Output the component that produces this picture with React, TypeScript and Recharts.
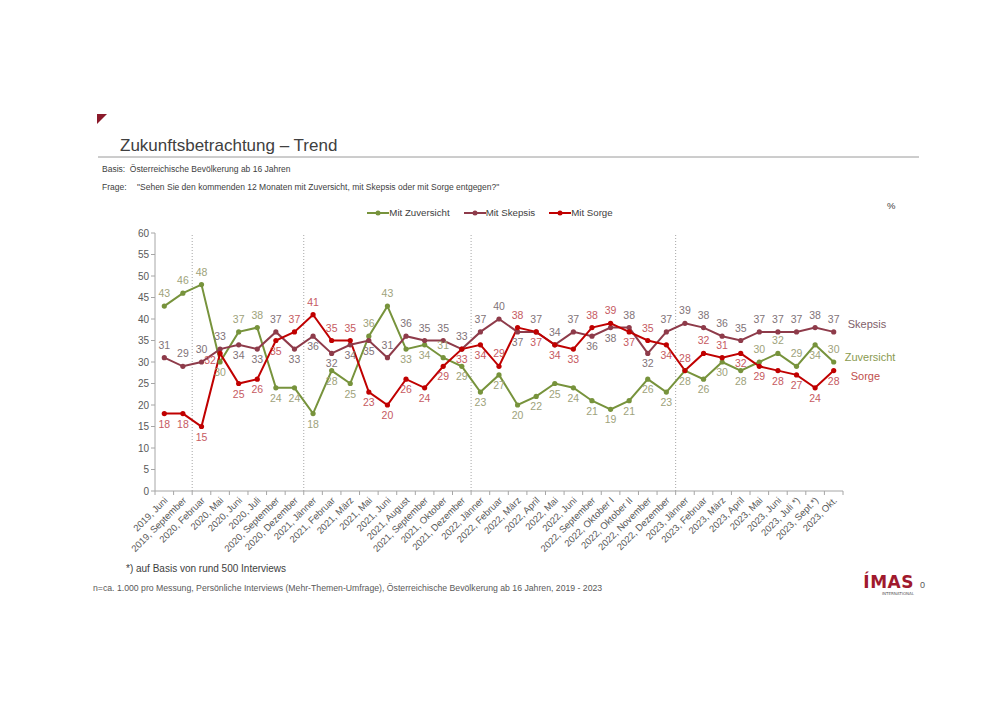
import React from 'react';
import { LineChart, Line, XAxis, YAxis, ReferenceLine, LabelList } from 'recharts';

const categories = [
  '2019, Juni', '2019, September', '2020, Februar', '2020, Mai', '2020, Juni', '2020, Juli',
  '2020, September', '2020, Dezember', '2021, Jänner', '2021, Februar', '2021, März', '2021, Mai',
  '2021, Juni', '2021, August', '2021, September', '2021, Oktober', '2021, Dezember', '2022, Jänner',
  '2022, Februar', '2022, März', '2022, April', '2022, Mai', '2022, Juni', '2022, September',
  '2022, Oktober I', '2022, Oktober II', '2022, November', '2022, Dezember', '2023, Jänner',
  '2023, Februar', '2023, März', '2023, April', '2023, Mai', '2023, Juni', '2023, Juli *)',
  '2023, Sept.*)', '2023, Okt.',
];

const zuversicht = [43, 46, 48, 30, 37, 38, 24, 24, 18, 28, 25, 36, 43, 33, 34, 31, 29, 23, 27, 20, 22, 25, 24, 21, 19, 21, 26, 23, 28, 26, 30, 28, 30, 32, 29, 34, 30];
const skepsis = [31, 29, 30, 33, 34, 33, 37, 33, 36, 32, 34, 35, 31, 36, 35, 35, 33, 37, 40, 37, 37, 34, 37, 36, 38, 38, 32, 37, 39, 38, 36, 35, 37, 37, 37, 38, 37];
const sorge = [18, 18, 15, 32, 25, 26, 35, 37, 41, 35, 35, 23, 20, 26, 24, 29, 33, 34, 29, 38, 37, 34, 33, 38, 39, 37, 35, 34, 28, 32, 31, 32, 29, 28, 27, 24, 28];

const yTicks = [0, 5, 10, 15, 20, 25, 30, 35, 40, 45, 50, 55, 60];

const FONT = '"Liberation Sans", Arial, sans-serif';

const data = categories.map((c, i) => ({ i, cat: c, z: zuversicht[i], sk: skepsis[i], so: sorge[i] }));

const series = [
  { key: 'z', name: 'Mit Zuversicht', short: 'Zuversicht', color: '#77933C', labelColor: '#9EA27A', nameColor: '#8A9A50', ndx: 11, ndy: -4 },
  { key: 'sk', name: 'Mit Skepsis', short: 'Skepsis', color: '#8E3B4A', labelColor: '#7F7378', nameColor: '#7F6069', ndx: 14, ndy: -7 },
  { key: 'so', name: 'Mit Sorge', short: 'Sorge', color: '#C00000', labelColor: '#C65A5F', nameColor: '#C0504D', ndx: 17, ndy: 6 },
];
const order = series.map((s) => s.key);

const W = 1000;
const H = 707;
const M = { top: 233, right: 157, bottom: 136, left: 115 };
const YW = 40;
const plotLeft = M.left + YW;
const plotW = W - M.right - plotLeft;
const bw = plotW / categories.length;

const yearOf = (c: string) => c.slice(0, 4);
const separators = categories
  .map((c, i) => (i > 0 && yearOf(c) !== yearOf(categories[i - 1]) ? i - 0.5 : null))
  .filter((v) => v !== null) as number[];

const labelSide = (key: string, idx: number) => {
  const vals: Record<string, number> = { z: zuversicht[idx], sk: skepsis[idx], so: sorge[idx] };
  const v = vals[key];
  const otherKeys = order.filter((k) => k !== key);
  const others = otherKeys.map((k) => vals[k]);
  const hi = Math.max(...others);
  const lo = Math.min(...others);
  // ties: the later series in the list goes on the opposite side
  const tiedKey = otherKeys.find((k) => vals[k] === v);
  if (tiedKey) {
    const laterThanTie = order.indexOf(key) > order.indexOf(tiedKey);
    if (v <= lo) return laterThanTie ? 'above' : 'below';
    if (v >= hi) return laterThanTie ? 'below' : 'above';
  }
  if (v >= hi) return 'above';
  if (v <= lo) return 'below';
  const gapUp = hi - v;
  const gapDown = v - lo;
  if (gapUp >= 6) return 'above';
  if (gapDown >= 6) return 'below';
  if (gapUp < 3 && gapDown < 3) return 'left';
  return gapUp > gapDown ? 'above' : 'below';
};

const makeLabel = (s: typeof series[number]) => (props: any) => {
  const { x, y, value, index } = props;
  const side = labelSide(s.key, index);
  let tx = x;
  let ty = side === 'above' ? y - 9 : y + 14;
  if (side === 'left') {
    tx = x - 10;
    ty = y + 11;
  }
  const isLast = index === categories.length - 1;
  return (
    <g>
      <text x={tx} y={ty} textAnchor="middle" fontSize={10.5} fill={s.labelColor} fontFamily={FONT}>
        {value}
      </text>
      {isLast && (
        <text x={x + s.ndx} y={y + s.ndy} dominantBaseline="middle" fontSize={11} fill={s.nameColor} fontFamily={FONT}>
          {s.short}
        </text>
      )}
    </g>
  );
};

const XTick = (props: any) => {
  const { x, y, payload, index } = props;
  const label = categories[payload.value] ?? '';
  return (
    <g>
      {index === 0 && <line x1={x - bw / 2} x2={x - bw / 2} y1={y} y2={y + 4} stroke="#A6A6A6" />}
      <line x1={x + bw / 2} x2={x + bw / 2} y1={y} y2={y + 4} stroke="#A6A6A6" />
      <text
        x={x + 4}
        y={y + 10}
        textAnchor="end"
        fontSize={9.5}
        fill="#595959"
        fontFamily={FONT}
        transform={`rotate(-45 ${x + 4} ${y + 10})`}
      >
        {label}
      </text>
    </g>
  );
};

const LegendBox = () => (
  <div style={{ position: 'absolute', top: 207, left: 0, width: 980, display: 'flex', justifyContent: 'center', fontFamily: FONT, fontSize: 9.7, color: '#404040' }}>
    {series.map((s) => (
      <div key={s.key} style={{ display: 'flex', alignItems: 'center', margin: '0 7px' }}>
        <svg width={22} height={10}>
          <line x1={0} x2={22} y1={5} y2={5} stroke={s.color} strokeWidth={2} />
          <circle cx={11} cy={5} r={2.5} fill={s.color} />
        </svg>
        <span>{s.name}</span>
      </div>
    ))}
  </div>
);

export default function App() {
  return (
    <div style={{ position: 'absolute', top: 0, left: 0, width: W, height: H, background: '#fff', fontFamily: FONT, overflow: 'hidden' }}>
      <svg style={{ position: 'absolute', left: 0, top: 0 }} width={W} height={H}>
        <polygon points="97,114 107,114 97,124" fill="#8B1A2B" />
        <line x1={98} x2={919} y1={157} y2={157} stroke="#9A9A9A" strokeWidth={1} />
      </svg>
      <div style={{ position: 'absolute', left: 120, top: 136, fontSize: 17, color: '#404040' }}>Zukunftsbetrachtung – Trend</div>
      <div style={{ position: 'absolute', left: 102, top: 164, fontSize: 8.5, color: '#404040' }}>Basis:&nbsp;&nbsp;Österreichische Bevölkerung ab 16 Jahren</div>
      <div style={{ position: 'absolute', left: 102, top: 182, fontSize: 8.5, color: '#404040' }}>Frage:</div>
      <div style={{ position: 'absolute', left: 137, top: 182, fontSize: 8.5, color: '#404040' }}>"Sehen Sie den kommenden 12 Monaten mit Zuversicht, mit Skepsis oder mit Sorge entgegen?"</div>
      <div style={{ position: 'absolute', left: 887, top: 200, fontSize: 9.5, color: '#404040' }}>%</div>
      <LegendBox />
      <div style={{ position: 'absolute', top: 0, left: 0 }}>
        <LineChart width={W} height={H} data={data} margin={M}>
          <XAxis
            dataKey="i"
            type="number"
            domain={[-0.5, categories.length - 0.5]}
            ticks={categories.map((_, i) => i)}
            interval={0}
            tick={<XTick />}
            tickLine={false}
            tickSize={0}
            tickMargin={0}
            axisLine={{ stroke: '#A6A6A6' }}
            height={80}
            allowDataOverflow
          />
          <YAxis
            domain={[0, 60]}
            ticks={yTicks}
            width={YW}
            tick={{ fontSize: 10, fill: '#595959', fontFamily: FONT }}
            tickLine={{ stroke: '#A6A6A6' }}
            tickSize={4}
            axisLine={{ stroke: '#A6A6A6' }}
            interval={0}
          />
          {separators.map((sx) => (
            <ReferenceLine key={sx} x={sx} stroke="#A6A6A6" strokeDasharray="1 2" />
          ))}
          {series.map((s) => (
            <Line
              key={s.key}
              dataKey={s.key}
              name={s.name}
              stroke={s.color}
              strokeWidth={2}
              dot={{ r: 2.6, fill: s.color, stroke: s.color, strokeWidth: 0 }}
              isAnimationActive={false}
            >
              <LabelList dataKey={s.key} content={makeLabel(s)} />
            </Line>
          ))}
        </LineChart>
      </div>
      <div style={{ position: 'absolute', left: 126, top: 563, fontSize: 10, color: '#404040' }}>*) auf Basis von rund 500 Interviews</div>
      <div style={{ position: 'absolute', left: 93, top: 583, fontSize: 8.7, color: '#595959' }}>n=ca. 1.000 pro Messung, Persönliche Interviews (Mehr-Themen-Umfrage), Österreichische Bevölkerung ab 16 Jahren, 2019 - 2023</div>
      <div style={{ position: 'absolute', left: 852, top: 573, width: 62, textAlign: 'right', fontFamily: '"DejaVu Sans", sans-serif' }}>
        <div style={{ fontSize: 17, fontWeight: 'bold', color: '#A0192D', letterSpacing: 0.5, lineHeight: '18px' }}>ÍMAS</div>
        <div style={{ fontSize: 4, color: '#595959', lineHeight: '5px' }}>INTERNATIONAL</div>
      </div>
      <div style={{ position: 'absolute', left: 920, top: 580, fontSize: 9, color: '#595959' }}>0</div>
    </div>
  );
}
